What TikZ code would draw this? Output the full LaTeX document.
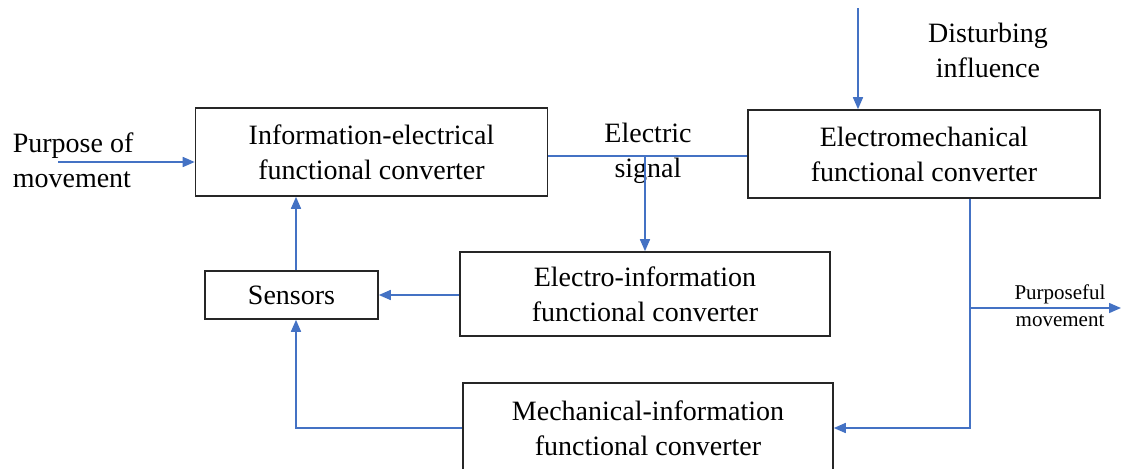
\documentclass[tikz,border=0pt]{standalone}
\usepackage{fontspec}
\setmainfont{Liberation Serif}
\usetikzlibrary{arrows.meta}
\begin{document}
\begin{tikzpicture}[x=0.5pt, y=-0.5pt, line width=0.8pt]
\tikzstyle{block}=[draw=black!85,rectangle,align=center,inner sep=0pt,
  font=\fontsize{14}{17.5}\selectfont]
\tikzstyle{label}=[align=center,inner sep=0pt,font=\fontsize{14}{17.5}\selectfont]
\tikzstyle{flow}=[draw={rgb,255:red,68;green,114;blue,196},
  -{Triangle[length=6pt,width=5pt]}]
\tikzstyle{wire}=[draw={rgb,255:red,68;green,114;blue,196}]
\useasboundingbox (0,0) rectangle (1121,468);
  % blocks
  \node[block,minimum width=176pt,minimum height=44pt] (iec) at (371.5,152)
    {Information-electrical\\functional converter};
  \node[block,minimum width=176pt,minimum height=44pt] (emc) at (924,154)
    {Electromechanical\\functional converter};
  \node[block,minimum width=86.5pt,minimum height=24pt] (sen) at (291.5,295)
    {Sensors};
  \node[block,minimum width=185pt,minimum height=42pt] (eic) at (645,294)
    {Electro-information\\functional converter};
  \node[block,minimum width=185pt,minimum height=45pt] (mic) at (648,428)
    {Mechanical-information\\functional converter};
  % texts
  \node[label,align=left,anchor=west] (pur) at (12,160) {Purpose of\\movement};
  \node[label] (sig) at (648,153) {Electric\\signal};
  \node[label] (dis) at (988,50) {Disturbing\\influence};
  \node[label,font=\fontsize{10.5}{13.5}\selectfont] (pfm) at (1060,306)
    {Purposeful\\movement};
  % free ends and bends
  \coordinate (pin) at (58,162);
  \coordinate (tap) at (645,156);
  \coordinate (dtop) at (858,8);
  \coordinate (turn) at (970,428);
  \coordinate (out) at (1121,308);
  \coordinate (sx) at (296,295);
  % connectors
  \path[flow] (pin) -- (pin -| iec.west);
  \path[wire] (iec.east |- tap) -- (emc.west |- tap);
  \path[flow] (tap) -- (tap |- eic.north);
  \path[flow] (dtop) -- (dtop |- emc.north);
  \path[flow] (emc.south -| turn) -- (turn) -- (turn -| mic.east);
  \path[flow] (turn |- out) -- (out);
  \path[flow] (eic.west |- sx) -- (sen.east |- sx);
  \path[flow] (sen.north -| sx) -- (sx |- iec.south);
  \path[flow] (mic.west) -| (sx |- sen.south);
\end{tikzpicture}
\end{document}
